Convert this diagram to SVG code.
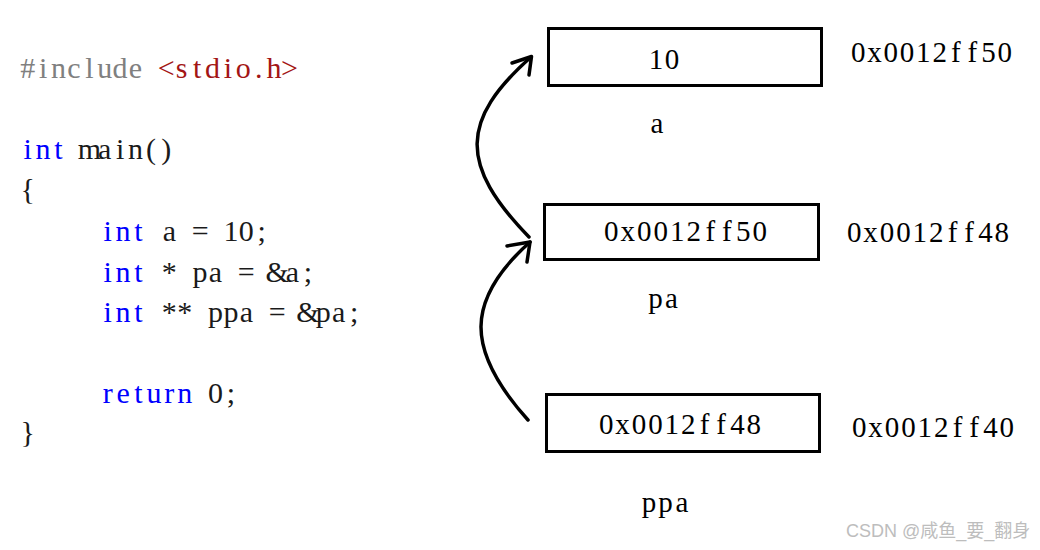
<svg xmlns="http://www.w3.org/2000/svg" width="1040" height="550" viewBox="0 0 1040 550">
<style>
.code{font-family:"Liberation Serif","DejaVu Serif",serif;font-size:30px;fill:#1a1a1a;text-anchor:middle}
.kw{fill:#0000ff}
.pp{fill:#808080}
.str{fill:#a31515}
.lbl{font-family:"Liberation Serif","DejaVu Serif",serif;font-size:29px;fill:#000;text-anchor:middle}
.box{fill:#fff;stroke:#000;stroke-width:3}
.conn{fill:none;stroke:#000;stroke-width:3.5;stroke-linecap:round;stroke-linejoin:round}
.wm{font-family:"Liberation Sans","Noto Sans CJK SC",sans-serif;font-size:18px;fill:#bdbdbd}
</style>
<rect width="1040" height="550" fill="#fff"/>
<g id="code">
<text class="code" x="27.7 43.1 58.5 73.9 89.3 104.7 120.1 135.5 150.9 166.3 181.7 197.1 212.5 227.9 243.3 258.7 274.1 289.5" y="78"><tspan class="pp">#include </tspan><tspan class="str">&lt;stdio.h&gt;</tspan></text>
<text class="code" x="27.7 43.1 58.5 73.9 89.3 104.7 120.1 135.5 150.9 166.3" y="159"><tspan class="kw">int</tspan> main()</text>
<text class="code" x="27.7" y="199">{</text>
<text class="code" x="107.7 123.1 138.5 153.9 169.3 184.7 200.1 215.5 230.9 246.3 261.7" y="241"><tspan class="kw">int</tspan> a = 10;</text>
<text class="code" x="107.7 123.1 138.5 153.9 169.3 184.7 200.1 215.5 230.9 246.3 261.7 277.1 292.5 307.9" y="282"><tspan class="kw">int</tspan> * pa = &amp;a;</text>
<text class="code" x="107.7 123.1 138.5 153.9 169.3 184.7 200.1 215.5 230.9 246.3 261.7 277.1 292.5 307.9 323.3 338.7 354.1" y="322"><tspan class="kw">int</tspan> ** ppa = &amp;pa;</text>
<text class="code" x="107.7 123.1 138.5 153.9 169.3 184.7 200.1 215.5 230.9" y="403"><tspan class="kw">return</tspan> 0;</text>
<text class="code" x="27.7" y="442">}</text>
</g>
<g id="node-a">
<rect class="box" x="548.5" y="28.5" width="273" height="57"/>
<text class="lbl" x="656 672" y="69">10</text>
<text class="lbl" x="657" y="133">a</text>
<text class="lbl" x="858.15 874.45 890.75 907.05 923.35 939.65 955.95 972.25 988.55 1004.85" y="62">0x0012ff50</text>
</g>
<g id="node-pa">
<rect class="box" x="544.5" y="204.5" width="274" height="55"/>
<text class="lbl" x="611.25 627.75 644.25 660.75 677.25 693.75 710.25 726.75 743.25 759.75" y="241">0x0012ff50</text>
<text class="lbl" x="655.5 671.5" y="308">pa</text>
<text class="lbl" x="854.2 870.6 887 903.4 919.8 936.2 952.6 969 985.4 1001.8" y="242">0x0012ff48</text>
</g>
<g id="node-ppa">
<rect class="box" x="546.5" y="394.5" width="273" height="57"/>
<text class="lbl" x="606.2 622.6 639 655.4 671.8 688.2 704.6 721 737.4 753.8" y="434">0x0012ff48</text>
<text class="lbl" x="649 665.5 682" y="512">ppa</text>
<text class="lbl" x="859.2 875.6 892 908.4 924.8 941.2 957.6 974 990.4 1006.8" y="437">0x0012ff40</text>
</g>
<g id="connectors">
<path class="conn" d="M529,237 C459,165 460,120 531,57"/>
<path class="conn" d="M512,63 L531.5,56.5 L529,75"/>
<path class="conn" d="M528,420 C465,350 465,300 530,242"/>
<path class="conn" d="M507,246 L530,242 L527,262"/>
</g>
<text class="wm" x="846" y="537">CSDN @咸鱼_要_翻身</text>
</svg>
